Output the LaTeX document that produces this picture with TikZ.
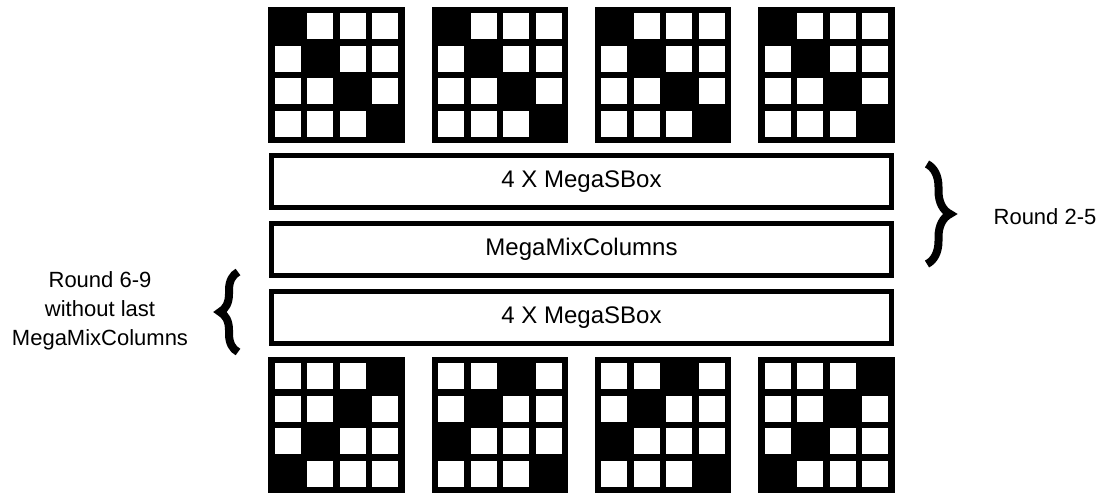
\documentclass[tikz,border=0pt]{standalone}
\usepackage{fontspec}
\setmainfont{Liberation Sans}
\usetikzlibrary{decorations.pathreplacing}
\newcommand\mygrid[3]{%
  \fill[black] (#1,#2) rectangle ++(136.5,136.5);
  \foreach \r in {0,...,3}{\foreach \c in {0,...,3}{%
    \fill[white] ({#1+6.5+32.5*\c},{#2+6.5+32.5*\r}) rectangle ++(26,26);}}
  \foreach \r/\c in {#3}{%
    \fill[black] ({#1+6.5+32.5*\c},{#2+6.5+32.5*\r}) rectangle ++(26,26);}
}
\begin{document}
\begin{tikzpicture}[x=1pt,y=-1pt,
  stage/.style={draw, line width=5pt, minimum width=620pt, minimum height=52pt,
    inner sep=0pt, font=\fontsize{24}{28}\selectfont},
  lbl/.style={font=\fontsize{22}{29}\selectfont, align=center},
  bracestyle/.style={decorate, decoration={brace, amplitude=#1}, line width=8pt}]
\useasboundingbox (0,0) rectangle (1107,496);
% top grids
\mygrid{268.3}{6.7}{0/0,1/1,2/2,3/3}
\mygrid{431.6}{6.7}{0/0,1/1,2/2,3/3}
\mygrid{594.9}{6.7}{0/0,1/1,2/2,3/3}
\mygrid{758.2}{6.7}{0/0,1/1,2/2,3/3}
% bottom grids
\mygrid{268.3}{356.8}{0/3,1/2,2/1,3/0}
\mygrid{431.6}{356.8}{0/2,1/1,2/0,3/3}
\mygrid{594.9}{356.8}{0/2,1/1,2/0,3/3}
\mygrid{758.2}{356.8}{0/3,1/2,2/1,3/0}
% stages
\node[stage] (sbox1) at (581.5,181.5) {4 X MegaSBox};
\node[stage] (mix) at (581.5,249.5) {MegaMixColumns};
\node[stage] (sbox2) at (581.5,317.5) {4 X MegaSBox};
% braces
\coordinate (rb1) at (927,164);
\coordinate (rb2) at (927,264);
\draw[bracestyle=23] (rb1) -- (rb2);
\node[lbl] (r25) at (1045,217) {Round 2-5};
\coordinate (lb1) at (238,352);
\coordinate (lb2) at (238,272);
\draw[bracestyle=18] (lb1) -- (lb2);
\node[lbl] (r69) at (100,311) {Round 6-9\\without last\\MegaMixColumns};
\end{tikzpicture}
\end{document}
